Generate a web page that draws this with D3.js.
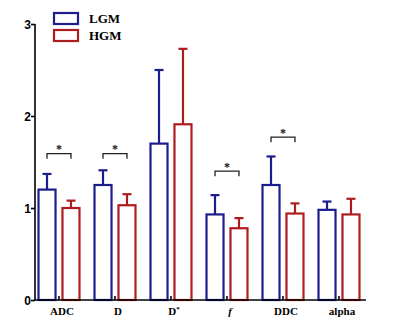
<!DOCTYPE html>
<html lang="en">
<head>
<meta charset="utf-8">
<title>LGM vs HGM</title>
<script src="https://d3js.org/d3.v7.min.js"></script>
<style>
body { margin: 0; background: #fff; }
</style>
</head>
<body>
<div id="chart"></div>
<script>
// data
const categories = ["ADC", "D", "D*", "f", "DDC", "alpha"];
const groups = ["LGM", "HGM"];
const lgmMean = [1.20, 1.25, 1.70, 0.93, 1.25, 0.98];
const lgmErr  = [0.17, 0.16, 0.80, 0.21, 0.31, 0.09];
const hgmMean = [1.00, 1.03, 1.91, 0.78, 0.94, 0.93];
const hgmErr  = [0.08, 0.12, 0.82, 0.11, 0.11, 0.17];
// significance brackets (category, height)
const sigCats = ["ADC", "D", "f", "DDC"];
const sigLevel = [1.59, 1.59, 1.40, 1.77];
const yTicks = [0, 1, 2, 3];

const w = 400, h = 329;
const colors = {LGM: "#1c1c8f", HGM: "#ad1c1f"};

const svg = d3.select("#chart").append("svg")
  .attr("width", w).attr("height", h);

const y = d3.scaleLinear().domain([0, 3]).range([300, 24]);
const x = d3.scalePoint().domain(categories).range([59, 339]);
const x1 = d3.scaleBand().domain(groups).range([-20.5, 20.5]).paddingInner(0.29);

const rows = categories.map((c, i) => ({
  cat: c,
  vals: [
    {g: "LGM", m: lgmMean[i], e: lgmErr[i]},
    {g: "HGM", m: hgmMean[i], e: hgmErr[i]}
  ]
}));

const cg = svg.selectAll("g.cat").data(rows).enter().append("g")
  .attr("class", "cat")
  .attr("transform", d => "translate(" + x(d.cat) + ",0)");

const bars = cg.selectAll("g.bar").data(d => d.vals).enter().append("g");

// error bars first
bars.append("line")
  .attr("x1", d => x1(d.g) + x1.bandwidth() / 2)
  .attr("x2", d => x1(d.g) + x1.bandwidth() / 2)
  .attr("y1", d => y(d.m))
  .attr("y2", d => y(d.m + d.e))
  .attr("stroke", d => colors[d.g]).attr("stroke-width", 2.2);
bars.append("line")
  .attr("x1", d => x1(d.g) + x1.bandwidth() / 2 - 4.5)
  .attr("x2", d => x1(d.g) + x1.bandwidth() / 2 + 4.5)
  .attr("y1", d => y(d.m + d.e))
  .attr("y2", d => y(d.m + d.e))
  .attr("stroke", d => colors[d.g]).attr("stroke-width", 2.2);

bars.append("rect")
  .attr("x", d => x1(d.g))
  .attr("width", x1.bandwidth())
  .attr("y", d => y(d.m))
  .attr("height", d => y(0) - y(d.m))
  .attr("fill", "#fff")
  .attr("stroke", d => colors[d.g])
  .attr("stroke-width", 2.2);

// significance brackets
sigCats.forEach((c, i) => {
  const xa = x(c) + x1("LGM") + x1.bandwidth() / 2;
  const xb = x(c) + x1("HGM") + x1.bandwidth() / 2;
  const yy = y(sigLevel[i]);
  svg.append("path")
    .attr("d", "M" + xa + "," + (yy + 5) + "V" + yy + "H" + xb + "V" + (yy + 5))
    .attr("fill", "none").attr("stroke", "#222").attr("stroke-width", 1.3);
  svg.append("text")
    .attr("x", (xa + xb) / 2).attr("y", yy - 0.5)
    .attr("text-anchor", "middle")
    .style("font", "bold 12px 'Liberation Serif', serif")
    .attr("fill", "#111")
    .text("*");
});

// y axis
const yAxis = d3.axisLeft(y).tickValues(yTicks).tickSize(4).tickFormat(d3.format("d"));
const ya = svg.append("g").attr("transform", "translate(35,0)").call(yAxis);
ya.select(".domain").attr("stroke-width", 1.6).attr("d", "M0," + y(3) + "V" + y(0));
ya.selectAll(".tick line").attr("stroke-width", 1.6);
ya.selectAll(".tick text")
  .style("font", "bold 12px 'Liberation Sans', Arial, sans-serif")
  .attr("x", -4).attr("dy", "0.35em");

// x axis line with inward ticks
svg.append("line")
  .attr("x1", 35).attr("x2", 366).attr("y1", y(0)).attr("y2", y(0))
  .attr("stroke", "#000").attr("stroke-width", 1.6);
svg.selectAll("line.xt").data(categories).enter().append("line")
  .attr("x1", d => x(d)).attr("x2", d => x(d))
  .attr("y1", y(0)).attr("y2", y(0) - 4)
  .attr("stroke", "#000").attr("stroke-width", 1.6);

const labels = svg.selectAll("text.xl").data(categories).enter().append("text")
  .attr("x", d => x(d) + 3).attr("y", 315)
  .attr("text-anchor", "middle")
  .style("font", "bold 11px 'Liberation Serif', 'Times New Roman', serif");
labels.each(function (d) {
  const t = d3.select(this);
  if (d === "D*") {
    t.append("tspan").text("D");
    t.append("tspan").attr("dy", -4).style("font-size", "7px").text("*");
  } else if (d === "f") {
    t.append("tspan").style("font-style", "italic").text("f");
  } else {
    t.text(d);
  }
});

// legend
const lg = svg.selectAll("g.leg").data(groups).enter().append("g")
  .attr("transform", (d, i) => "translate(54," + (13 + i * 17) + ")");
lg.append("rect").attr("width", 24).attr("height", 11)
  .attr("fill", "#fff").attr("stroke", d => colors[d]).attr("stroke-width", 2.2);
lg.append("text").attr("x", 35).attr("y", 10)
  .style("font", "bold 13px 'Liberation Serif', 'Times New Roman', serif")
  .text(d => d);
</script>
</body>
</html>
